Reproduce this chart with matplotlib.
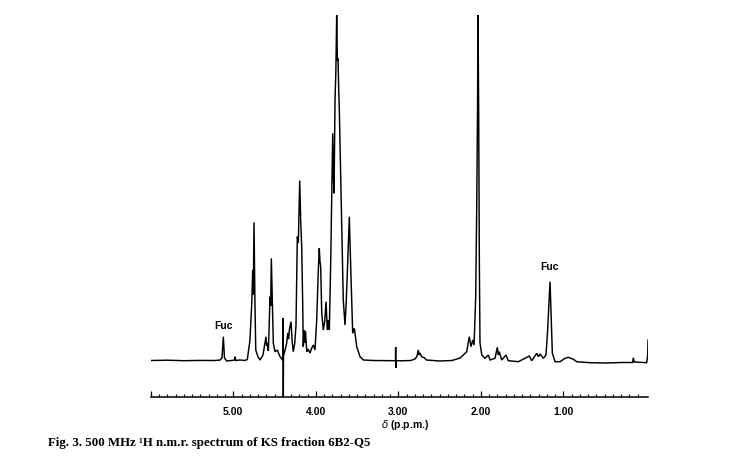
import matplotlib
matplotlib.use("Agg")
import matplotlib.pyplot as plt
from matplotlib.ticker import FixedLocator, FixedFormatter

# Traced spectrum (chemical shift in p.p.m., relative intensity)
ppm = [6.00, 5.80, 5.60, 5.40, 5.22, 5.16, 5.137, 5.121, 5.107, 5.08, 5.02, 4.985, 4.979, 4.970,
       4.92, 4.86, 4.83, 4.798, 4.775, 4.765, 4.758, 4.749, 4.738, 4.728, 4.70, 4.676, 4.64,
       4.604, 4.596, 4.588, 4.575, 4.567, 4.555, 4.547, 4.539, 4.527, 4.515, 4.495, 4.467,
       4.434, 4.401, 4.396, 4.394, 4.392, 4.375, 4.353, 4.340, 4.330, 4.321, 4.301, 4.287,
       4.273, 4.255, 4.240, 4.224, 4.212, 4.195, 4.183, 4.171, 4.159, 4.152, 4.143, 4.135,
       4.125, 4.110, 4.095, 4.070, 4.050, 4.030, 4.010, 3.989, 3.970, 3.958, 3.950, 3.941,
       3.928, 3.909, 3.892, 3.876, 3.861, 3.848, 3.836, 3.819, 3.795, 3.785, 3.779, 3.767,
       3.757, 3.747, 3.739, 3.731, 3.722, 3.715, 3.700, 3.686, 3.667, 3.646, 3.634, 3.618,
       3.594, 3.577, 3.553, 3.533, 3.504, 3.464, 3.424, 3.30, 3.10, 3.034, 3.032, 3.031,
       3.030, 2.95, 2.85, 2.798, 2.775, 2.758, 2.748, 2.737, 2.719, 2.685, 2.66, 2.50, 2.35,
       2.25, 2.171, 2.140, 2.119, 2.098, 2.082, 2.062, 2.050, 2.040, 2.034, 2.026, 2.018,
       2.010, 1.988, 1.950, 1.909, 1.888, 1.828, 1.800, 1.788, 1.776, 1.747, 1.695, 1.667,
       1.545, 1.412, 1.383, 1.322, 1.302, 1.282, 1.242, 1.210, 1.190, 1.161, 1.149, 1.133,
       1.100, 1.040, 0.979, 0.939, 0.878, 0.838, 0.676, 0.474, 0.30, 0.160, 0.151, 0.140,
       0.02, -0.010, -0.022, -0.027]
intensity = [0.5, 0.8, 0.3, 0.6, 0.5, 1.0, 3, 24.3, 3, 0, 0.5, 1, 4.3, 0.5,
             1, 0.5, 1.5, 21, 60, 91, 66, 138.7, 60, 11, 4, 1, 6,
             24.3, 15, 18, 10, 30, 64.3, 55, 102.7, 60, 18, 9.3, 11,
             4.3, 1, 43, -36, 5, 10, 18, 28, 22, 31, 39.3, 20,
             9.3, 18, 36, 124.3, 118, 180.5, 140, 114.3, 58, 14.3, 31, 18,
             30, 9.3, 12, 8, 12.7, 16, 11, 41, 90, 112.7, 100, 94.3,
             47.7, 31, 40, 59.3, 31, 41, 31, 101, 227.7, 180, 167.7, 261,
             290, 346, 300, 302.7, 270, 251, 190, 128, 61, 36, 54.3, 87.7,
             144.3, 94.3, 27.7, 32.7, 14.3, 4.3, 1, 0.5, 0.3, 0.3, 14, -7,
             0.3, 0.2, 0.5, 2, 4.5, 11, 6, 8, 4.3, 3.3, 1, 0, 0.5,
             3, 9.3, 24.3, 14.3, 21, 16, 64, 151, 250, 346, 250, 100,
             18, 6, 2.7, 6, 1, 2.7, 13.7, 6, 9.3, 1, 6, 0.3,
             -0.7, 5, 0.3, 7.7, 4.3, 7, 2.7, 6, 31, 79.3, 48, 7.7,
             -0.7, -0.7, 2.7, 3.7, 1.7, -0.7, -1.7, -2, -1.5, -1.5, 3.3, -1,
             -1.5, -1.7, 5, 21]

major_ticks = [6.0, 5.0, 4.0, 3.0, 2.0, 1.0]
major_labels = ["", "5.00", "4.00", "3.00", "2.00", "1.00"]
minor_ticks = [round(0.1 * i, 1) for i in range(1, 60) if i % 10 != 0]

annot_text = ["Fuc", "Fuc"]
annot_ppm = [5.115, 1.165]
annot_y = [35, 94]

fig = plt.figure(figsize=(7.56, 4.62), dpi=100)
ax = fig.add_axes([150.8 / 756, (462 - 397) / 462, (648.3 - 150.8) / 756, 397 / 462])
ax.plot(ppm, intensity, color="black", lw=1.05, solid_joinstyle="miter")
ax.set_xlim(6.0, -0.03)
ax.set_ylim(-36, 361)

for s in ["top", "left", "right"]:
    ax.spines[s].set_visible(False)
ax.spines["bottom"].set_linewidth(1.1)
ax.set_yticks([])
ax.xaxis.set_major_locator(FixedLocator(major_ticks))
ax.xaxis.set_major_formatter(FixedFormatter(major_labels))
ax.xaxis.set_minor_locator(FixedLocator(minor_ticks))
ax.tick_params(axis="x", which="major", direction="in", length=4, width=0.9, pad=7.5,
               labelsize=7.5)
ax.tick_params(axis="x", which="minor", direction="in", length=2.2, width=0.8)
for lab in ax.get_xticklabels():
    lab.set_fontfamily("Liberation Sans")
    lab.set_fontweight("bold")

for t, xp, yp in zip(annot_text, annot_ppm, annot_y):
    ax.text(xp, yp, t, ha="center", va="center", fontsize=7.5, family="Liberation Sans",
            weight="bold")

fig.text(405.5 / 756, 1 - 425 / 462, "$\\delta$ (p.p.m.)", ha="center", va="center",
         fontsize=7.5, family="Liberation Sans", weight="bold")
fig.text(48 / 756, 1 - 442.7 / 462,
         "Fig. 3. 500 MHz \u00b9H n.m.r. spectrum of KS fraction 6B2-Q5",
         ha="left", va="center", fontsize=9.3, family="Liberation Serif", weight="bold")

fig.savefig("out.png", dpi=100)
